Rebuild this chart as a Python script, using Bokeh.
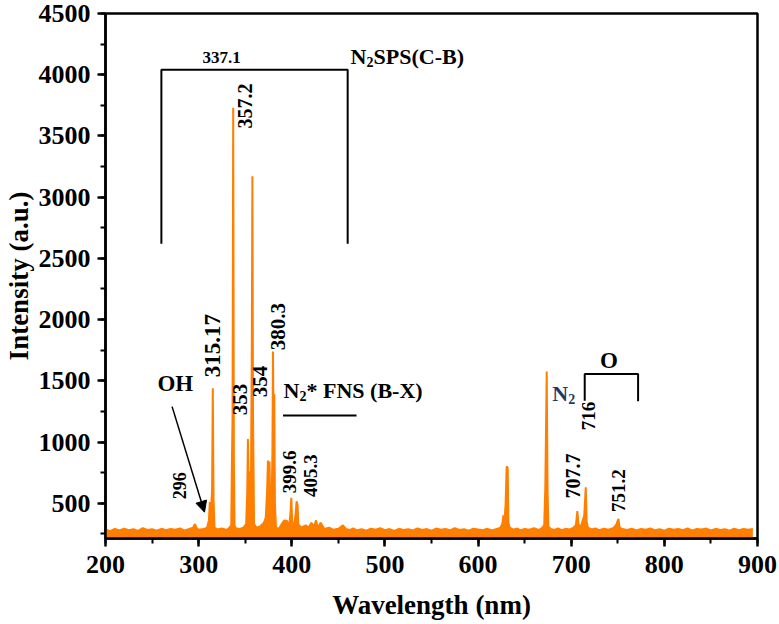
from math import pi

from bokeh.core.properties import value
from bokeh.embed import file_html
from bokeh.models import Arrow, NormalHead, SingleIntervalTicker, Range1d
from bokeh.plotting import figure
from bokeh.resources import INLINE

# Emission spectrum: wavelength (nm) and intensity (a.u.)
wavelength = [
    200, 205, 210, 215, 220, 225, 230, 235, 240, 245, 250, 255, 260, 265, 270,
    275, 280, 285, 290, 294, 296, 298, 300, 305, 309, 311, 312, 313, 314.4,
    315.2, 316, 317, 320, 325, 330, 333, 335, 335.8, 336.4, 337.1, 337.8,
    338.5, 340, 344, 348, 351, 352.2, 352.9, 353.6, 354.3, 355, 356.2, 357.1,
    357.7, 358.4, 359.5, 362, 366, 370, 372, 373.5, 374.4, 375.2, 376.1,
    376.8, 378, 379.2, 379.8, 380.6, 381.2, 381.9, 383, 386, 390, 392, 395,
    397, 398.6, 399.5, 400.4, 402, 404, 405.2, 406.2, 407, 410, 415, 418,
    421, 424, 426, 428, 431, 435, 440, 445, 450, 455, 458, 462, 466, 470,
    475, 480, 485, 490, 495, 500, 505, 510, 515, 520, 525, 530, 535, 540,
    545, 550, 555, 560, 565, 570, 575, 580, 585, 590, 595, 600, 605, 610,
    615, 620, 624, 626, 627.2, 628.2, 629.5, 630.7, 631.8, 632.6, 634, 638,
    642, 646, 650, 655, 660, 665, 669, 671, 672.2, 673.7, 674.6, 675.5, 678,
    682, 686, 690, 694, 698, 702, 705, 706.6, 707.8, 710, 712, 714, 715.6,
    716.6, 718, 722, 726, 730, 735, 740, 745, 748, 750.7, 752, 755, 760, 765,
    770, 775, 780, 785, 790, 795, 800, 805, 810, 815, 820, 825, 830, 835,
    840, 845, 850, 855, 860, 865, 870, 875, 880, 885, 890, 895, 900,
]
intensity = [
    285, 272, 290, 278, 293, 280, 288, 274, 296, 281, 287, 276, 291, 279, 289,
    283, 295, 277, 290, 300, 330, 296, 284, 290, 298, 360, 510, 420, 600,
    1440, 540, 300, 286, 293, 282, 300, 320, 880, 1200, 3730, 900,
    320, 295, 290, 300, 330, 600, 1025, 700, 760, 420, 700, 1800,
    3170, 1200, 330, 300, 310, 340, 380, 600, 848, 500, 840,
    420, 360, 900, 1740, 1000, 1390, 500, 300, 290, 340, 360, 355,
    300, 420, 545, 350, 300, 400, 516, 490, 330, 300, 320, 300,
    340, 310, 360, 300, 340, 290, 300, 283, 292, 320, 290, 281, 294, 279,
    288, 276, 292, 283, 297, 280, 289, 274, 291, 282, 287, 278, 295, 281,
    289, 276, 293, 284, 290, 279, 296, 282, 288, 275, 292, 286, 280, 291,
    277, 289, 300, 330, 400, 360, 480, 800, 790, 340, 300, 284,
    293, 279, 290, 283, 296, 281, 300, 320, 630, 1575, 600, 310, 290,
    282, 294, 279, 291, 285, 298, 320, 435, 330, 300, 350, 400, 630,
    350, 300, 286, 294, 280, 292, 283, 297, 320, 373, 300, 289, 281, 293,
    278, 290, 284, 295, 279, 288, 276, 292, 283, 290, 280, 294, 277,
    289, 285, 293, 278, 291, 282, 287, 275, 292, 280, 289, 284, 290,
]

Y_MIN = 212

# Bracket for the N2 second positive system
sps_x = [260, 260, 460, 460]
sps_y = [2620, 4040, 4040, 2620]
# Underline for the N2+ first negative system
fns_x = [390.6, 469.5]
fns_y = [1216, 1216]
# Bracket for atomic oxygen lines
o_x = [714.5, 714.5, 771.8, 771.8]
o_y = [1338, 1556, 1556, 1333]

# Rotated peak labels
peak_labels = ["357.2", "315.17", "353", "354", "380.3", "296", "399.6",
               "405.3", "716", "707.7", "751.2"]
peak_label_x = [350.3, 314.9, 343.9, 366.4, 385.4, 279.4, 397.6,
                420.1, 718.9, 702.1, 751.1]
peak_label_y = [3561, 1529, 1218, 1365, 1749, 533, 582,
                551, 1096, 538, 429]
peak_label_size = ["20px", "23px", "21px", "21px", "21px", "18px", "19px",
                   "19px", "19px", "20px", "19px"]

ORANGE = "#FF7F00"
SERIF = value("Liberation Serif")

p = figure(
    width=779, height=624, output_backend="svg", toolbar_location=None,
    x_range=Range1d(200, 900), y_range=Range1d(Y_MIN, 4500),
    min_border_left=105, min_border_right=22, min_border_top=13,
    min_border_bottom=86,
)
p.background_fill_color = "white"
p.border_fill_color = "white"
p.outline_line_color = "black"
p.outline_line_width = 2.5
p.grid.visible = False

# Spectrum: filled down to the axis plus the trace itself
p.varea(x=wavelength, y1=[Y_MIN] * len(wavelength), y2=intensity,
        fill_color=ORANGE)
p.line(wavelength, intensity, line_color=ORANGE, line_width=2)

# Annotation brackets
p.line(sps_x, sps_y, line_color="black", line_width=2)
p.line(fns_x, fns_y, line_color="black", line_width=2)
p.line(o_x, o_y, line_color="black", line_width=2)

# OH arrow
p.add_layout(Arrow(end=NormalHead(size=11, fill_color="black", line_color="black"),
                   x_start=271.5, y_start=1289, x_end=306.3, y_end=427,
                   line_color="black", line_width=1.5))

# Rotated peak wavelength labels
p.text(x=peak_label_x, y=peak_label_y, text=peak_labels, angle=pi / 2,
       text_align="left", text_baseline="middle", text_font=SERIF,
       text_font_style="bold", text_font_size=peak_label_size,
       text_color="black")

# Horizontal annotations
p.text(x=[304.1], y=[4141], text=["337.1"], text_align="left",
       text_baseline="middle", text_font=SERIF,
       text_font_style="bold", text_font_size="17px", text_color="black")

def label_with_sub(x, y, head, sub, tail, size, sub_size, head_w, sub_w,
                   color="black"):
    p.text(x=[x], y=[y], text=[head], text_align="left", text_baseline="middle",
           text_font=SERIF, text_font_style="bold", text_font_size=size,
           text_color=color)
    p.text(x=[x], y=[y], text=[sub], x_offset=head_w, y_offset=6,
           text_align="left", text_baseline="middle", text_font=SERIF,
           text_font_style="bold", text_font_size=sub_size, text_color=color)
    if tail:
        p.text(x=[x], y=[y], text=[tail], x_offset=head_w + sub_w,
               text_align="left", text_baseline="middle", text_font=SERIF,
               text_font_style="bold", text_font_size=size, text_color=color)

label_with_sub(463.1, 4150, "N", "2", "SPS(C-B)", "22px", "14px", 16, 7)
label_with_sub(391.1, 1422, "N", "2", "* FNS (B-X)", "22px", "14px", 16, 7)
label_with_sub(679.6, 1398, "N", "2", "", "22px", "14px", 16, 7,
               color="#1F3A66")

p.text(x=[255.8], y=[1480], text=["OH"], text_align="left",
       text_baseline="middle", text_font=SERIF, text_font_style="bold",
       text_font_size="23px", text_color="black")
p.text(x=[740.4], y=[1667], text=["O"], text_align="center",
       text_baseline="middle", text_font=SERIF, text_font_style="bold",
       text_font_size="23px", text_color="black")

# Axes
p.xaxis.ticker = SingleIntervalTicker(interval=100, num_minor_ticks=2)
p.yaxis.ticker = SingleIntervalTicker(interval=500, num_minor_ticks=2)
for ax in (p.xaxis, p.yaxis):
    ax.axis_line_width = 2.5
    ax.major_tick_line_width = 2.5
    ax.minor_tick_line_width = 2
    ax.major_tick_out = 8
    ax.major_tick_in = 0
    ax.minor_tick_out = 5
    ax.minor_tick_in = 0
    ax.major_label_text_font = "Liberation Serif"
    ax.major_label_text_font_style = "bold"
    ax.major_label_text_font_size = "26px"
    ax.major_label_text_color = "black"
    ax.axis_label_text_font = "Liberation Serif"
    ax.axis_label_text_font_style = "bold"
    ax.axis_label_text_font_size = "27px"
    ax.axis_label_text_color = "black"

p.xaxis.axis_label = "Wavelength (nm)"
p.yaxis.axis_label = "Intensity (a.u.)"
p.xaxis.major_label_standoff = 9
p.yaxis.major_label_standoff = 7
p.xaxis.axis_label_standoff = 14
p.yaxis.axis_label_standoff = 2

open("out.html", "w").write(file_html(p, INLINE))
